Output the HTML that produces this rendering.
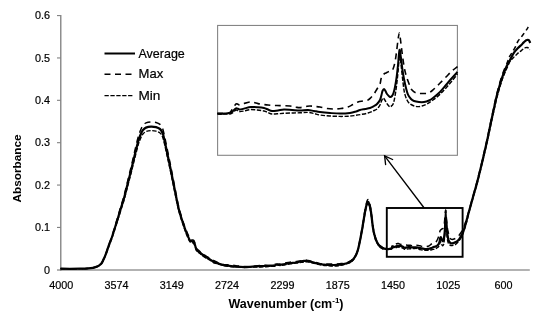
<!DOCTYPE html>
<html lang="en"><head><meta charset="utf-8"><title>FTIR absorbance spectra</title>
<style>html,body{margin:0;padding:0;background:#fff;}body{width:550px;height:316px;overflow:hidden;}svg{display:block;}text{font-family:"Liberation Sans",sans-serif;fill:#000;}</style></head><body>
<svg width="550" height="316" viewBox="0 0 550 316">
<rect width="550" height="316" fill="#fff"/>
<line x1="57" y1="270" x2="529.8" y2="270" stroke="#b2b2b2" stroke-width="2"/>
<line x1="60.75" y1="15.1" x2="60.75" y2="270.9" stroke="#8e8e8e" stroke-width="1.5"/>
<g stroke="#808080" stroke-width="1.1" fill="none">
<line x1="57" y1="227.43" x2="60.7" y2="227.43"/>
<line x1="57" y1="185.06" x2="60.7" y2="185.06"/>
<line x1="57" y1="142.69" x2="60.7" y2="142.69"/>
<line x1="57" y1="100.32" x2="60.7" y2="100.32"/>
<line x1="57" y1="57.95" x2="60.7" y2="57.95"/>
<line x1="57" y1="15.58" x2="60.7" y2="15.58"/>
</g>
<text x="50" y="273.8" font-size="10.8" text-anchor="end" stroke="#000" stroke-width="0.2">0</text>
<text x="50" y="231.3" font-size="10.8" text-anchor="end" stroke="#000" stroke-width="0.2">0.1</text>
<text x="50" y="188.8" font-size="10.8" text-anchor="end" stroke="#000" stroke-width="0.2">0.2</text>
<text x="50" y="146.4" font-size="10.8" text-anchor="end" stroke="#000" stroke-width="0.2">0.3</text>
<text x="50" y="103.9" font-size="10.8" text-anchor="end" stroke="#000" stroke-width="0.2">0.4</text>
<text x="50" y="61.5" font-size="10.8" text-anchor="end" stroke="#000" stroke-width="0.2">0.5</text>
<text x="50" y="19.0" font-size="10.8" text-anchor="end" stroke="#000" stroke-width="0.2">0.6</text>
<text x="61.2" y="288.8" font-size="10.8" text-anchor="middle" stroke="#000" stroke-width="0.2">4000</text>
<text x="116.5" y="288.8" font-size="10.8" text-anchor="middle" stroke="#000" stroke-width="0.2">3574</text>
<text x="171.8" y="288.8" font-size="10.8" text-anchor="middle" stroke="#000" stroke-width="0.2">3149</text>
<text x="227.1" y="288.8" font-size="10.8" text-anchor="middle" stroke="#000" stroke-width="0.2">2724</text>
<text x="282.4" y="288.8" font-size="10.8" text-anchor="middle" stroke="#000" stroke-width="0.2">2299</text>
<text x="337.7" y="288.8" font-size="10.8" text-anchor="middle" stroke="#000" stroke-width="0.2">1875</text>
<text x="393.0" y="288.8" font-size="10.8" text-anchor="middle" stroke="#000" stroke-width="0.2">1450</text>
<text x="448.3" y="288.8" font-size="10.8" text-anchor="middle" stroke="#000" stroke-width="0.2">1025</text>
<text x="503.6" y="288.8" font-size="10.8" text-anchor="middle" stroke="#000" stroke-width="0.2">600</text>
<text x="286" y="307.6" font-size="12.5" font-weight="bold" text-anchor="middle">Wavenumber (cm<tspan font-size="8" dy="-4.5">-1</tspan><tspan dy="4.5">)</tspan></text>
<text transform="translate(20.8,168.5) rotate(-90)" font-size="11.8" font-weight="bold" text-anchor="middle">Absorbance</text>
<g stroke="#000" fill="none">
<line x1="104.5" y1="53.5" x2="135" y2="53.5" stroke-width="2"/>
<line x1="104.5" y1="74.3" x2="135" y2="74.3" stroke-width="1.5" stroke-dasharray="6 4.5"/>
<line x1="104.5" y1="95.6" x2="133" y2="95.6" stroke-width="1.3" stroke-dasharray="4.3 1.6"/>
</g>
<text x="138.5" y="58" font-size="12.6" textLength="46.3" lengthAdjust="spacingAndGlyphs" stroke="#000" stroke-width="0.2">Average</text>
<text x="138.5" y="78.4" font-size="12.6" textLength="24.7" lengthAdjust="spacingAndGlyphs" stroke="#000" stroke-width="0.2">Max</text>
<text x="138.5" y="99.6" font-size="12.6" textLength="21.9" lengthAdjust="spacingAndGlyphs" stroke="#000" stroke-width="0.2">Min</text>
<rect x="217.6" y="25.45" width="239.8" height="129.85" fill="#fff" stroke="#858585" stroke-width="1.1"/>
<g stroke="#000" fill="none" stroke-linejoin="round">
<path d="M217.40,113.20C218.17,113.23 220.57,113.43 222.00,113.40C223.43,113.37 224.67,113.15 226.00,113.00C227.33,112.85 228.83,113.33 230.00,112.50C231.17,111.67 232.00,109.42 233.00,108.00C234.00,106.58 235.17,104.63 236.00,104.00C236.83,103.37 237.33,104.03 238.00,104.20C238.67,104.37 239.00,105.12 240.00,105.00C241.00,104.88 242.33,104.00 244.00,103.50C245.67,103.00 248.33,102.17 250.00,102.00C251.67,101.83 252.67,102.23 254.00,102.50C255.33,102.77 256.50,103.27 258.00,103.60C259.50,103.93 261.33,104.27 263.00,104.50C264.67,104.73 266.17,104.83 268.00,105.00C269.83,105.17 272.00,105.40 274.00,105.50C276.00,105.60 277.33,105.52 280.00,105.60C282.67,105.68 287.33,105.73 290.00,106.00C292.67,106.27 294.33,106.93 296.00,107.20C297.67,107.47 298.33,107.72 300.00,107.60C301.67,107.48 304.33,106.77 306.00,106.50C307.67,106.23 308.50,106.00 310.00,106.00C311.50,106.00 313.33,106.33 315.00,106.50C316.67,106.67 318.00,106.67 320.00,107.00C322.00,107.33 324.67,108.17 327.00,108.50C329.33,108.83 331.67,109.00 334.00,109.00C336.33,109.00 338.67,108.83 341.00,108.50C343.33,108.17 346.00,107.67 348.00,107.00C350.00,106.33 351.33,105.33 353.00,104.50C354.67,103.67 356.33,102.58 358.00,102.00C359.67,101.42 361.33,101.33 363.00,101.00C364.67,100.67 366.67,100.58 368.00,100.00C369.33,99.42 370.00,98.50 371.00,97.50C372.00,96.50 373.00,95.42 374.00,94.00C375.00,92.58 376.00,90.67 377.00,89.00C378.00,87.33 379.33,85.67 380.00,84.00C380.67,82.33 380.67,80.33 381.00,79.00C381.33,77.67 381.50,76.83 382.00,76.00C382.50,75.17 383.33,74.50 384.00,74.00C384.67,73.50 385.17,73.42 386.00,73.00C386.83,72.58 388.17,71.83 389.00,71.50C389.83,71.17 390.33,71.42 391.00,71.00C391.67,70.58 392.33,70.50 393.00,69.00C393.67,67.50 394.42,64.83 395.00,62.00C395.58,59.17 396.00,55.67 396.50,52.00C397.00,48.33 397.53,43.17 398.00,40.00C398.47,36.83 398.88,33.00 399.30,33.00C399.72,33.00 400.05,36.83 400.50,40.00C400.95,43.17 401.42,47.67 402.00,52.00C402.58,56.33 403.33,62.17 404.00,66.00C404.67,69.83 405.08,71.83 406.00,75.00C406.92,78.17 408.50,82.50 409.50,85.00C410.50,87.50 410.92,88.67 412.00,90.00C413.08,91.33 414.33,92.42 416.00,93.00C417.67,93.58 419.92,93.50 422.00,93.50C424.08,93.50 426.50,93.75 428.50,93.00C430.50,92.25 432.15,90.58 434.00,89.00C435.85,87.42 437.60,85.50 439.60,83.50C441.60,81.50 443.93,79.08 446.00,77.00C448.07,74.92 450.08,72.73 452.00,71.00C453.92,69.27 456.58,67.33 457.50,66.60" stroke-width="1.6" stroke-dasharray="6 4.5"/>
<path d="M217.40,114.00C218.17,114.05 220.57,114.30 222.00,114.30C223.43,114.30 224.67,114.05 226.00,114.00C227.33,113.95 228.83,114.25 230.00,114.00C231.17,113.75 232.00,113.17 233.00,112.50C234.00,111.83 235.17,110.28 236.00,110.00C236.83,109.72 237.33,110.53 238.00,110.80C238.67,111.07 239.00,111.57 240.00,111.60C241.00,111.63 242.33,111.33 244.00,111.00C245.67,110.67 247.83,109.77 250.00,109.60C252.17,109.43 254.67,109.77 257.00,110.00C259.33,110.23 262.17,110.58 264.00,111.00C265.83,111.42 266.67,112.00 268.00,112.50C269.33,113.00 270.00,113.82 272.00,114.00C274.00,114.18 277.00,113.77 280.00,113.60C283.00,113.43 286.67,113.13 290.00,113.00C293.33,112.87 297.00,112.90 300.00,112.80C303.00,112.70 305.67,112.28 308.00,112.40C310.33,112.52 312.00,113.07 314.00,113.50C316.00,113.93 317.33,114.58 320.00,115.00C322.67,115.42 326.67,115.77 330.00,116.00C333.33,116.23 337.00,116.37 340.00,116.40C343.00,116.43 345.67,116.33 348.00,116.20C350.33,116.07 351.83,115.88 354.00,115.60C356.17,115.32 358.67,114.93 361.00,114.50C363.33,114.07 366.00,113.58 368.00,113.00C370.00,112.42 371.50,111.67 373.00,111.00C374.50,110.33 375.83,110.00 377.00,109.00C378.17,108.00 379.25,106.33 380.00,105.00C380.75,103.67 381.00,102.17 381.50,101.00C382.00,99.83 382.50,98.25 383.00,98.00C383.50,97.75 384.00,98.83 384.50,99.50C385.00,100.17 385.42,101.08 386.00,102.00C386.58,102.92 387.33,104.17 388.00,105.00C388.67,105.83 389.33,106.92 390.00,107.00C390.67,107.08 391.42,106.17 392.00,105.50C392.58,104.83 393.00,104.58 393.50,103.00C394.00,101.42 394.50,98.83 395.00,96.00C395.50,93.17 396.00,90.00 396.50,86.00C397.00,82.00 397.47,77.33 398.00,72.00C398.53,66.67 399.20,55.33 399.70,54.00C400.20,52.67 400.53,60.00 401.00,64.00C401.47,68.00 402.00,73.67 402.50,78.00C403.00,82.33 403.58,87.23 404.00,90.00C404.42,92.77 404.50,92.93 405.00,94.60C405.50,96.27 406.25,98.52 407.00,100.00C407.75,101.48 408.50,102.58 409.50,103.50C410.50,104.42 411.67,104.98 413.00,105.50C414.33,106.02 416.00,106.52 417.50,106.60C419.00,106.68 420.42,106.43 422.00,106.00C423.58,105.57 425.17,105.00 427.00,104.00C428.83,103.00 430.90,101.57 433.00,100.00C435.10,98.43 437.43,96.60 439.60,94.60C441.77,92.60 443.93,90.27 446.00,88.00C448.07,85.73 450.08,83.33 452.00,81.00C453.92,78.67 456.58,75.17 457.50,74.00" stroke-width="1.45" stroke-dasharray="4.3 1.6"/>
<path d="M217.40,113.60C218.17,113.63 220.57,113.83 222.00,113.80C223.43,113.77 224.67,113.53 226.00,113.40C227.33,113.27 228.83,113.40 230.00,113.00C231.17,112.60 232.00,111.77 233.00,111.00C234.00,110.23 235.17,108.77 236.00,108.40C236.83,108.03 237.33,108.60 238.00,108.80C238.67,109.00 239.00,109.63 240.00,109.60C241.00,109.57 242.17,109.03 244.00,108.60C245.83,108.17 248.67,107.23 251.00,107.00C253.33,106.77 255.83,107.03 258.00,107.20C260.17,107.37 262.33,107.62 264.00,108.00C265.67,108.38 266.67,109.00 268.00,109.50C269.33,110.00 270.33,110.85 272.00,111.00C273.67,111.15 276.00,110.63 278.00,110.40C280.00,110.17 281.67,109.67 284.00,109.60C286.33,109.53 289.33,109.87 292.00,110.00C294.67,110.13 297.33,110.40 300.00,110.40C302.67,110.40 305.67,109.90 308.00,110.00C310.33,110.10 312.00,110.67 314.00,111.00C316.00,111.33 317.33,111.67 320.00,112.00C322.67,112.33 326.67,112.73 330.00,113.00C333.33,113.27 336.67,113.60 340.00,113.60C343.33,113.60 347.33,113.35 350.00,113.00C352.67,112.65 354.33,112.00 356.00,111.50C357.67,111.00 358.50,110.42 360.00,110.00C361.50,109.58 363.33,109.33 365.00,109.00C366.67,108.67 368.50,108.50 370.00,108.00C371.50,107.50 372.83,106.67 374.00,106.00C375.17,105.33 376.00,105.00 377.00,104.00C378.00,103.00 379.25,101.50 380.00,100.00C380.75,98.50 381.08,96.50 381.50,95.00C381.92,93.50 382.08,92.00 382.50,91.00C382.92,90.00 383.50,89.00 384.00,89.00C384.50,89.00 385.00,90.17 385.50,91.00C386.00,91.83 386.25,93.00 387.00,94.00C387.75,95.00 389.17,96.67 390.00,97.00C390.83,97.33 391.42,96.67 392.00,96.00C392.58,95.33 393.00,94.50 393.50,93.00C394.00,91.50 394.50,89.50 395.00,87.00C395.50,84.50 396.00,81.67 396.50,78.00C397.00,74.33 397.50,69.67 398.00,65.00C398.50,60.33 399.00,51.17 399.50,50.00C400.00,48.83 400.50,54.67 401.00,58.00C401.50,61.33 402.00,66.50 402.50,70.00C403.00,73.50 403.42,76.00 404.00,79.00C404.58,82.00 405.33,85.40 406.00,88.00C406.67,90.60 407.17,92.77 408.00,94.60C408.83,96.43 410.00,97.93 411.00,99.00C412.00,100.07 412.67,100.50 414.00,101.00C415.33,101.50 417.33,101.83 419.00,102.00C420.67,102.17 422.33,102.25 424.00,102.00C425.67,101.75 427.50,101.17 429.00,100.50C430.50,99.83 431.17,99.42 433.00,98.00C434.83,96.58 437.83,94.17 440.00,92.00C442.17,89.83 444.00,87.33 446.00,85.00C448.00,82.67 450.08,80.17 452.00,78.00C453.92,75.83 456.58,73.00 457.50,72.00" stroke-width="2"/>
</g>
<g stroke="#000" fill="none" stroke-linejoin="round">
<path d="M60.50,268.67C62.08,268.69 66.75,268.77 70.00,268.77C73.25,268.77 77.00,268.74 80.00,268.67C83.00,268.60 85.83,268.52 88.00,268.36C90.17,268.21 91.37,268.10 93.00,267.74C94.63,267.38 96.63,266.71 97.80,266.19C98.97,265.67 99.30,265.28 100.00,264.64C100.70,264.00 101.33,263.45 102.00,262.37C102.67,261.28 103.27,259.86 104.00,258.13C104.73,256.41 105.57,254.36 106.40,252.04C107.23,249.71 108.07,246.87 109.00,244.19C109.93,241.50 111.00,238.94 112.00,235.92C113.00,232.91 114.03,229.30 115.00,226.11C115.97,222.93 116.88,219.91 117.80,216.81C118.72,213.71 119.55,210.70 120.50,207.52C121.45,204.33 122.58,200.97 123.50,197.70C124.42,194.43 125.15,191.33 126.00,187.89C126.85,184.45 127.72,180.66 128.60,177.04C129.48,173.43 130.32,170.33 131.30,166.20C132.28,162.06 133.38,156.99 134.50,152.25C135.62,147.52 137.08,141.23 138.00,137.79C138.92,134.35 139.42,133.23 140.00,131.59C140.58,129.96 141.00,129.01 141.50,127.98C142.00,126.94 142.25,126.24 143.00,125.39C143.75,124.55 144.67,123.50 146.00,122.91C147.33,122.33 149.33,121.95 151.00,121.88C152.67,121.81 154.50,122.09 156.00,122.50C157.50,122.91 159.00,123.53 160.00,124.36C161.00,125.19 161.42,126.25 162.00,127.46C162.58,128.66 162.67,128.15 163.50,131.59C164.33,135.03 165.75,142.09 167.00,148.12C168.25,154.15 169.67,161.03 171.00,167.75C172.33,174.46 173.67,181.69 175.00,188.41C176.33,195.12 177.50,202.01 179.00,208.03C180.50,214.06 182.67,220.53 184.00,224.56C185.33,228.59 186.00,229.84 187.00,232.20C188.00,234.56 189.17,237.45 190.00,238.74C190.83,240.03 191.33,239.65 192.00,239.96C192.67,240.28 193.45,239.82 194.00,240.62C194.55,241.43 194.88,243.50 195.30,244.81C195.72,246.11 196.05,247.64 196.50,248.46C196.95,249.27 197.42,249.20 198.00,249.70C198.58,250.21 199.17,250.84 200.00,251.49C200.83,252.14 201.92,252.79 203.00,253.61C204.08,254.42 205.33,255.60 206.50,256.38C207.67,257.16 208.67,257.53 210.00,258.29C211.33,259.04 213.08,260.12 214.50,260.89C215.92,261.65 217.13,262.27 218.50,262.88C219.87,263.48 220.62,264.16 222.70,264.52C224.78,264.88 228.62,264.83 231.00,265.06C233.38,265.28 234.83,265.62 237.00,265.88C239.17,266.13 241.83,266.45 244.00,266.59C246.17,266.73 248.08,266.82 250.00,266.71C251.92,266.59 253.17,266.15 255.50,265.92C257.83,265.69 261.28,265.40 264.00,265.33C266.72,265.26 269.97,265.67 271.80,265.49C273.63,265.32 274.18,264.46 275.00,264.25C275.82,264.05 275.87,264.29 276.70,264.24C277.53,264.19 278.62,264.19 280.00,263.98C281.38,263.78 283.33,263.31 285.00,263.01C286.67,262.71 288.17,262.39 290.00,262.16C291.83,261.93 294.33,261.80 296.00,261.62C297.67,261.45 298.67,261.41 300.00,261.10C301.33,260.78 302.67,259.83 304.00,259.74C305.33,259.65 306.50,260.22 308.00,260.55C309.50,260.89 311.33,261.34 313.00,261.75C314.67,262.16 316.33,262.67 318.00,263.03C319.67,263.39 321.33,263.77 323.00,263.93C324.67,264.08 326.17,263.96 328.00,263.96C329.83,263.97 332.00,264.00 334.00,263.96C336.00,263.91 338.00,263.85 340.00,263.69C342.00,263.54 344.33,263.44 346.00,263.03C347.67,262.62 348.83,261.98 350.00,261.23C351.17,260.48 352.00,259.65 353.00,258.53C354.00,257.41 355.17,256.13 356.00,254.52C356.83,252.90 357.33,251.33 358.00,248.84C358.67,246.34 359.33,242.90 360.00,239.54C360.67,236.18 361.50,231.53 362.00,228.69C362.50,225.85 362.50,225.59 363.00,222.50C363.50,219.40 364.42,213.37 365.00,210.10C365.58,206.83 366.05,204.59 366.50,202.87C366.95,201.15 367.35,200.20 367.70,199.77C368.05,199.34 368.30,199.77 368.60,200.29C368.90,200.80 369.10,201.23 369.50,202.87C369.90,204.50 370.42,206.14 371.00,210.10C371.58,214.06 372.42,222.67 373.00,226.63C373.58,230.59 374.00,231.79 374.50,233.86C375.00,235.92 375.42,237.51 376.00,239.02C376.58,240.54 377.33,241.85 378.00,242.95C378.67,244.05 379.17,244.84 380.00,245.63C380.83,246.43 381.83,247.17 383.00,247.70C384.17,248.23 386.09,248.61 387.00,248.81C387.91,249.01 388.02,248.92 388.48,248.90C388.95,248.89 389.34,248.78 389.77,248.71C390.20,248.64 390.69,248.87 391.06,248.47C391.44,248.07 391.71,246.98 392.03,246.29C392.35,245.61 392.73,244.67 393.00,244.36C393.27,244.06 393.43,244.38 393.64,244.46C393.86,244.54 393.96,244.90 394.29,244.85C394.61,244.79 395.04,244.36 395.58,244.12C396.11,243.88 396.97,243.48 397.51,243.40C398.05,243.32 398.37,243.51 398.80,243.64C399.23,243.77 399.61,244.01 400.09,244.17C400.57,244.33 401.16,244.49 401.70,244.60C402.24,244.72 402.72,244.76 403.31,244.85C403.90,244.93 404.60,245.04 405.25,245.09C405.89,245.14 406.32,245.10 407.18,245.14C408.04,245.18 409.55,245.20 410.41,245.33C411.27,245.46 411.80,245.78 412.34,245.91C412.88,246.04 413.09,246.16 413.63,246.10C414.17,246.05 415.03,245.70 415.56,245.57C416.10,245.44 416.37,245.33 416.85,245.33C417.34,245.33 417.93,245.49 418.47,245.57C419.00,245.65 419.43,245.65 420.08,245.81C420.72,245.97 421.58,246.38 422.34,246.54C423.09,246.70 423.84,246.78 424.59,246.78C425.34,246.78 426.10,246.70 426.85,246.54C427.60,246.38 428.46,246.13 429.11,245.81C429.75,245.49 430.18,245.01 430.72,244.60C431.25,244.20 431.79,243.68 432.33,243.40C432.87,243.11 433.40,243.07 433.94,242.91C434.48,242.75 435.12,242.71 435.55,242.43C435.98,242.15 436.20,241.71 436.52,241.22C436.84,240.74 437.17,240.22 437.49,239.53C437.81,238.85 438.13,237.92 438.46,237.12C438.78,236.31 439.21,235.51 439.42,234.70C439.64,233.90 439.64,232.93 439.74,232.29C439.85,231.64 439.91,231.24 440.07,230.84C440.23,230.43 440.50,230.11 440.71,229.87C440.93,229.63 441.09,229.59 441.36,229.39C441.63,229.19 442.06,228.82 442.32,228.66C442.59,228.50 442.75,228.62 442.97,228.42C443.18,228.22 443.40,228.18 443.61,227.45C443.83,226.73 444.07,225.44 444.26,224.07C444.45,222.70 444.58,221.01 444.74,219.24C444.90,217.47 445.07,214.97 445.23,213.44C445.38,211.91 445.51,210.06 445.64,210.06C445.78,210.06 445.89,211.91 446.03,213.44C446.18,214.97 446.33,217.15 446.52,219.24C446.70,221.33 446.94,224.15 447.16,226.00C447.37,227.86 447.51,228.82 447.80,230.35C448.10,231.88 448.61,233.98 448.93,235.18C449.26,236.39 449.39,236.95 449.74,237.60C450.09,238.24 450.49,238.76 451.03,239.05C451.57,239.33 452.00,239.56 453.00,239.30C454.00,239.04 455.83,238.38 457.00,237.50C458.17,236.62 459.08,235.25 460.00,234.00C460.92,232.75 461.78,231.33 462.50,230.00C463.22,228.67 463.68,227.67 464.30,226.00C464.92,224.33 465.35,222.79 466.20,220.00C467.05,217.21 468.22,213.43 469.40,209.28C470.58,205.14 472.00,199.82 473.30,195.12C474.60,190.41 475.82,186.38 477.20,181.05C478.58,175.72 480.38,168.21 481.60,163.14C482.82,158.06 483.56,154.70 484.50,150.59C485.44,146.47 486.38,142.44 487.25,138.44C488.12,134.45 488.88,130.55 489.70,126.60C490.52,122.66 491.42,118.44 492.20,114.76C492.98,111.09 493.67,107.92 494.40,104.54C495.13,101.17 495.87,97.56 496.60,94.52C497.33,91.49 498.07,88.94 498.80,86.33C499.53,83.71 500.30,81.08 501.00,78.84C501.70,76.59 502.33,74.74 503.00,72.87C503.67,71.00 504.33,69.24 505.00,67.60C505.67,65.97 506.47,64.32 507.00,63.05C507.53,61.78 508.00,60.51 508.20,60.00" stroke-width="1.5" stroke-dasharray="6 4.5"/>
<path d="M60.50,268.73C62.08,268.74 66.75,268.82 70.00,268.82C73.25,268.82 77.00,268.79 80.00,268.73C83.00,268.66 85.83,268.58 88.00,268.43C90.17,268.29 91.37,268.19 93.00,267.85C94.63,267.51 96.63,266.88 97.80,266.39C98.97,265.91 99.30,265.53 100.00,264.93C100.70,264.34 101.33,263.82 102.00,262.80C102.67,261.78 103.27,260.43 104.00,258.81C104.73,257.19 105.57,255.26 106.40,253.08C107.23,250.89 108.07,248.22 109.00,245.69C109.93,243.16 111.00,240.75 112.00,237.91C113.00,235.08 114.03,231.68 115.00,228.68C115.97,225.68 116.88,222.85 117.80,219.93C118.72,217.01 119.55,214.18 120.50,211.18C121.45,208.19 122.58,205.03 123.50,201.95C124.42,198.87 125.15,195.95 126.00,192.71C126.85,189.47 127.72,185.91 128.60,182.51C129.48,179.11 130.32,176.19 131.30,172.30C132.28,168.41 133.38,163.64 134.50,159.18C135.62,154.73 137.08,148.81 138.00,145.57C138.92,142.33 139.42,141.28 140.00,139.74C140.58,138.20 141.00,137.31 141.50,136.34C142.00,135.37 142.25,134.70 143.00,133.91C143.75,133.12 144.67,132.13 146.00,131.58C147.33,131.03 149.33,130.67 151.00,130.60C152.67,130.54 154.50,130.80 156.00,131.19C157.50,131.58 159.00,132.16 160.00,132.94C161.00,133.71 161.42,134.72 162.00,135.85C162.58,136.99 162.67,136.50 163.50,139.74C164.33,142.98 165.75,149.62 167.00,155.29C168.25,160.96 169.67,167.44 171.00,173.76C172.33,180.08 173.67,186.88 175.00,193.20C176.33,199.52 177.50,206.00 179.00,211.67C180.50,217.34 182.67,223.24 184.00,227.22C185.33,231.20 186.00,233.12 187.00,235.53C188.00,237.95 189.17,240.60 190.00,241.72C190.83,242.84 191.33,241.88 192.00,242.24C192.67,242.61 193.45,243.06 194.00,243.91C194.55,244.75 194.88,246.22 195.30,247.31C195.72,248.40 196.05,249.63 196.50,250.45C196.95,251.27 197.42,251.74 198.00,252.24C198.58,252.74 199.17,252.79 200.00,253.45C200.83,254.12 201.92,255.42 203.00,256.23C204.08,257.05 205.33,257.69 206.50,258.32C207.67,258.95 208.67,259.22 210.00,260.02C211.33,260.82 213.08,262.51 214.50,263.14C215.92,263.78 217.13,263.48 218.50,263.84C219.87,264.20 220.62,264.81 222.70,265.30C224.78,265.80 228.62,266.54 231.00,266.81C233.38,267.07 234.83,266.77 237.00,266.88C239.17,267.00 241.83,267.51 244.00,267.51C246.17,267.51 248.08,266.93 250.00,266.87C251.92,266.80 253.17,267.12 255.50,267.11C257.83,267.10 261.28,266.96 264.00,266.82C266.72,266.67 269.97,266.33 271.80,266.24C273.63,266.14 274.18,266.47 275.00,266.25C275.82,266.02 275.87,265.02 276.70,264.91C277.53,264.80 278.62,265.61 280.00,265.58C281.38,265.55 283.33,264.98 285.00,264.70C286.67,264.42 288.17,264.18 290.00,263.91C291.83,263.64 294.33,263.34 296.00,263.11C297.67,262.87 298.67,262.71 300.00,262.52C301.33,262.32 302.67,262.05 304.00,261.94C305.33,261.83 306.50,261.66 308.00,261.86C309.50,262.06 311.33,262.77 313.00,263.12C314.67,263.47 316.33,263.61 318.00,263.97C319.67,264.34 321.33,265.00 323.00,265.29C324.67,265.59 326.17,265.60 328.00,265.73C329.83,265.86 332.00,266.11 334.00,266.07C336.00,266.04 338.00,265.87 340.00,265.51C342.00,265.15 344.33,264.40 346.00,263.91C347.67,263.41 348.83,263.13 350.00,262.55C351.17,261.96 352.00,261.59 353.00,260.40C354.00,259.21 355.17,257.13 356.00,255.41C356.83,253.69 357.33,252.41 358.00,250.06C358.67,247.71 359.33,244.47 360.00,241.31C360.67,238.16 361.50,233.78 362.00,231.11C362.50,228.44 362.50,228.19 363.00,225.28C363.50,222.36 364.42,216.69 365.00,213.61C365.58,210.53 366.05,208.43 366.50,206.81C366.95,205.19 367.35,204.30 367.70,203.89C368.05,203.49 368.30,203.89 368.60,204.38C368.90,204.86 369.10,205.27 369.50,206.81C369.90,208.35 370.42,209.89 371.00,213.61C371.58,217.34 372.42,225.44 373.00,229.16C373.58,232.89 374.00,234.02 374.50,235.97C375.00,237.91 375.42,239.40 376.00,240.83C376.58,242.25 377.33,243.49 378.00,244.52C378.67,245.56 379.17,246.30 380.00,247.05C380.83,247.79 381.83,248.64 383.00,248.99C384.17,249.35 386.09,249.14 387.00,249.19C387.91,249.25 388.02,249.34 388.48,249.34C388.95,249.34 389.34,249.22 389.77,249.19C390.20,249.17 390.69,249.31 391.06,249.19C391.44,249.07 391.71,248.79 392.03,248.47C392.35,248.15 392.73,247.40 393.00,247.26C393.27,247.12 393.43,247.52 393.64,247.65C393.86,247.78 393.96,248.02 394.29,248.03C394.61,248.05 395.04,247.90 395.58,247.74C396.11,247.58 396.81,247.15 397.51,247.07C398.21,246.99 399.01,247.15 399.77,247.26C400.52,247.37 401.43,247.54 402.02,247.74C402.61,247.95 402.88,248.23 403.31,248.47C403.74,248.71 403.96,249.10 404.60,249.19C405.25,249.28 406.22,249.08 407.18,249.00C408.15,248.92 409.33,248.77 410.41,248.71C411.48,248.65 412.66,248.66 413.63,248.61C414.60,248.57 415.46,248.36 416.21,248.42C416.96,248.48 417.50,248.74 418.14,248.95C418.79,249.16 419.22,249.48 420.08,249.68C420.94,249.88 422.23,250.05 423.30,250.16C424.38,250.27 425.56,250.34 426.53,250.35C427.49,250.37 428.35,250.32 429.11,250.26C429.86,250.19 430.34,250.10 431.04,249.97C431.74,249.83 432.54,249.64 433.30,249.43C434.05,249.23 434.91,248.99 435.55,248.71C436.20,248.43 436.68,248.07 437.17,247.74C437.65,247.42 438.08,247.26 438.46,246.78C438.83,246.29 439.18,245.49 439.42,244.85C439.66,244.20 439.74,243.48 439.91,242.91C440.07,242.35 440.23,241.58 440.39,241.46C440.55,241.34 440.71,241.87 440.87,242.19C441.03,242.51 441.17,242.95 441.36,243.40C441.54,243.84 441.79,244.44 442.00,244.85C442.22,245.25 442.43,245.77 442.65,245.81C442.86,245.85 443.10,245.41 443.29,245.09C443.48,244.76 443.61,244.64 443.77,243.88C443.94,243.11 444.10,241.87 444.26,240.50C444.42,239.13 444.58,237.60 444.74,235.67C444.90,233.73 445.05,231.48 445.23,228.90C445.40,226.33 445.61,220.85 445.77,220.21C445.93,219.56 446.04,223.11 446.19,225.04C446.34,226.97 446.52,229.71 446.68,231.80C446.84,233.90 447.03,236.26 447.16,237.60C447.29,238.94 447.32,239.02 447.48,239.82C447.64,240.63 447.89,241.71 448.13,242.43C448.37,243.15 448.61,243.68 448.93,244.12C449.26,244.56 449.63,244.84 450.06,245.09C450.49,245.34 450.97,245.60 451.51,245.62C452.05,245.64 452.64,245.39 453.30,245.20C453.96,245.01 454.63,245.12 455.50,244.50C456.37,243.88 457.58,242.58 458.50,241.50C459.42,240.42 460.25,239.33 461.00,238.00C461.75,236.67 462.33,235.25 463.00,233.50C463.67,231.75 464.37,229.50 465.00,227.50C465.63,225.50 466.07,224.30 466.80,221.50C467.53,218.70 468.32,214.82 469.40,210.72C470.48,206.61 472.00,201.48 473.30,196.88C474.60,192.29 475.82,188.35 477.20,183.15C478.58,177.95 480.38,170.62 481.60,165.66C482.82,160.71 483.56,157.43 484.50,153.41C485.44,149.39 486.38,145.46 487.25,141.56C488.12,137.65 488.88,133.85 489.70,130.00C490.52,126.14 491.42,122.03 492.20,118.44C492.98,114.85 493.67,111.75 494.40,108.46C495.13,105.16 495.87,101.64 496.60,98.68C497.33,95.71 498.07,93.23 498.80,90.67C499.53,88.12 500.30,85.55 501.00,83.36C501.70,81.17 502.33,79.36 503.00,77.53C503.67,75.70 504.33,73.99 505.00,72.40C505.67,70.80 506.17,69.77 507.00,67.95C507.83,66.13 508.92,63.24 510.00,61.50C511.08,59.76 512.37,58.72 513.50,57.50C514.63,56.28 515.88,55.07 516.80,54.20C517.72,53.33 518.20,52.93 519.00,52.30C519.80,51.67 520.85,51.00 521.60,50.40C522.35,49.80 522.85,49.15 523.50,48.70C524.15,48.25 524.87,47.90 525.50,47.70C526.13,47.50 526.78,47.42 527.30,47.50C527.82,47.58 528.22,47.82 528.60,48.20C528.98,48.58 529.43,49.53 529.60,49.80" stroke-width="1.4" stroke-dasharray="4.3 1.6"/>
<path d="M60.50,268.70C62.08,268.72 66.75,268.80 70.00,268.80C73.25,268.80 77.00,268.77 80.00,268.70C83.00,268.63 85.83,268.55 88.00,268.40C90.17,268.25 91.37,268.15 93.00,267.80C94.63,267.45 96.63,266.80 97.80,266.30C98.97,265.80 99.30,265.42 100.00,264.80C100.70,264.18 101.33,263.65 102.00,262.60C102.67,261.55 103.27,260.17 104.00,258.50C104.73,256.83 105.57,254.85 106.40,252.60C107.23,250.35 108.07,247.60 109.00,245.00C109.93,242.40 111.00,239.92 112.00,237.00C113.00,234.08 114.03,230.58 115.00,227.50C115.97,224.42 116.88,221.50 117.80,218.50C118.72,215.50 119.55,212.58 120.50,209.50C121.45,206.42 122.58,203.17 123.50,200.00C124.42,196.83 125.15,193.83 126.00,190.50C126.85,187.17 127.72,183.50 128.60,180.00C129.48,176.50 130.32,173.50 131.30,169.50C132.28,165.50 133.38,160.58 134.50,156.00C135.62,151.42 137.08,145.33 138.00,142.00C138.92,138.67 139.42,137.58 140.00,136.00C140.58,134.42 141.00,133.50 141.50,132.50C142.00,131.50 142.25,130.82 143.00,130.00C143.75,129.18 144.67,128.17 146.00,127.60C147.33,127.03 149.33,126.67 151.00,126.60C152.67,126.53 154.50,126.80 156.00,127.20C157.50,127.60 159.00,128.20 160.00,129.00C161.00,129.80 161.42,130.83 162.00,132.00C162.58,133.17 162.67,132.67 163.50,136.00C164.33,139.33 165.75,146.17 167.00,152.00C168.25,157.83 169.67,164.50 171.00,171.00C172.33,177.50 173.67,184.50 175.00,191.00C176.33,197.50 177.50,204.17 179.00,210.00C180.50,215.83 182.67,222.00 184.00,226.00C185.33,230.00 186.00,231.58 187.00,234.00C188.00,236.42 189.17,239.30 190.00,240.50C190.83,241.70 191.33,240.88 192.00,241.20C192.67,241.52 193.45,241.60 194.00,242.40C194.55,243.20 194.88,244.78 195.30,246.00C195.72,247.22 196.05,248.83 196.50,249.70C196.95,250.57 197.42,250.73 198.00,251.20C198.58,251.67 199.17,251.87 200.00,252.50C200.83,253.13 201.92,254.20 203.00,255.00C204.08,255.80 205.33,256.55 206.50,257.30C207.67,258.05 208.67,258.72 210.00,259.50C211.33,260.28 213.08,261.32 214.50,262.00C215.92,262.68 217.13,263.13 218.50,263.60C219.87,264.07 220.62,264.40 222.70,264.80C224.78,265.20 228.62,265.68 231.00,266.00C233.38,266.32 234.83,266.53 237.00,266.70C239.17,266.87 241.83,266.98 244.00,267.00C246.17,267.02 248.08,266.90 250.00,266.80C251.92,266.70 253.17,266.53 255.50,266.40C257.83,266.27 261.28,266.13 264.00,266.00C266.72,265.87 269.97,265.72 271.80,265.60C273.63,265.48 274.18,265.48 275.00,265.30C275.82,265.12 275.87,264.58 276.70,264.50C277.53,264.42 278.62,264.88 280.00,264.80C281.38,264.72 283.33,264.27 285.00,264.00C286.67,263.73 288.17,263.45 290.00,263.20C291.83,262.95 294.33,262.78 296.00,262.50C297.67,262.22 298.67,261.78 300.00,261.50C301.33,261.22 302.67,260.85 304.00,260.80C305.33,260.75 306.50,260.95 308.00,261.20C309.50,261.45 311.33,261.87 313.00,262.30C314.67,262.73 316.33,263.43 318.00,263.80C319.67,264.17 321.33,264.30 323.00,264.50C324.67,264.70 326.17,264.92 328.00,265.00C329.83,265.08 332.00,265.07 334.00,265.00C336.00,264.93 338.00,264.85 340.00,264.60C342.00,264.35 344.33,263.93 346.00,263.50C347.67,263.07 348.83,262.67 350.00,262.00C351.17,261.33 352.00,260.67 353.00,259.50C354.00,258.33 355.17,256.67 356.00,255.00C356.83,253.33 357.33,251.92 358.00,249.50C358.67,247.08 359.33,243.75 360.00,240.50C360.67,237.25 361.50,232.75 362.00,230.00C362.50,227.25 362.50,227.00 363.00,224.00C363.50,221.00 364.42,215.17 365.00,212.00C365.58,208.83 366.05,206.67 366.50,205.00C366.95,203.33 367.35,202.42 367.70,202.00C368.05,201.58 368.30,202.00 368.60,202.50C368.90,203.00 369.10,203.42 369.50,205.00C369.90,206.58 370.42,208.17 371.00,212.00C371.58,215.83 372.42,224.17 373.00,228.00C373.58,231.83 374.00,233.00 374.50,235.00C375.00,237.00 375.42,238.53 376.00,240.00C376.58,241.47 377.33,242.73 378.00,243.80C378.67,244.87 379.17,245.63 380.00,246.40C380.83,247.17 381.83,247.97 383.00,248.40C384.17,248.83 386.09,248.88 387.00,249.00C387.91,249.12 388.02,249.11 388.48,249.10C388.95,249.08 389.34,248.97 389.77,248.90C390.20,248.84 390.69,248.90 391.06,248.71C391.44,248.52 391.71,248.11 392.03,247.74C392.35,247.37 392.73,246.67 393.00,246.49C393.27,246.31 393.43,246.58 393.64,246.68C393.86,246.78 393.96,247.08 394.29,247.07C394.61,247.05 394.98,246.79 395.58,246.58C396.17,246.38 397.08,245.92 397.83,245.81C398.58,245.70 399.39,245.83 400.09,245.91C400.79,245.99 401.49,246.11 402.02,246.29C402.56,246.48 402.88,246.78 403.31,247.02C403.74,247.26 404.07,247.67 404.60,247.74C405.14,247.82 405.89,247.57 406.54,247.45C407.18,247.34 407.72,247.10 408.47,247.07C409.22,247.04 410.19,247.20 411.05,247.26C411.91,247.33 412.77,247.45 413.63,247.45C414.49,247.45 415.46,247.21 416.21,247.26C416.96,247.31 417.50,247.58 418.14,247.74C418.79,247.90 419.22,248.07 420.08,248.23C420.94,248.39 422.23,248.58 423.30,248.71C424.38,248.84 425.45,249.00 426.53,249.00C427.60,249.00 428.89,248.88 429.75,248.71C430.61,248.54 431.15,248.23 431.68,247.99C432.22,247.74 432.49,247.46 432.97,247.26C433.46,247.06 434.05,246.94 434.59,246.78C435.12,246.62 435.71,246.54 436.20,246.29C436.68,246.05 437.11,245.65 437.49,245.33C437.86,245.01 438.13,244.85 438.46,244.36C438.78,243.88 439.18,243.15 439.42,242.43C439.66,241.71 439.77,240.74 439.91,240.01C440.04,239.29 440.09,238.57 440.23,238.08C440.36,237.60 440.55,237.12 440.71,237.12C440.87,237.12 441.03,237.68 441.20,238.08C441.36,238.48 441.44,239.05 441.68,239.53C441.92,240.01 442.38,240.82 442.65,240.98C442.91,241.14 443.10,240.82 443.29,240.50C443.48,240.18 443.61,239.77 443.77,239.05C443.94,238.32 444.10,237.36 444.26,236.15C444.42,234.94 444.58,233.57 444.74,231.80C444.90,230.03 445.06,227.78 445.23,225.52C445.39,223.27 445.55,218.84 445.71,218.28C445.87,217.71 446.03,220.53 446.19,222.14C446.35,223.75 446.52,226.25 446.68,227.94C446.84,229.63 446.97,230.84 447.16,232.29C447.35,233.73 447.59,235.38 447.80,236.63C448.02,237.89 448.18,238.94 448.45,239.82C448.72,240.71 449.09,241.43 449.42,241.95C449.74,242.46 449.95,242.67 450.38,242.91C450.81,243.15 451.48,243.38 452.00,243.40C452.52,243.41 452.83,243.23 453.50,243.00C454.17,242.77 455.17,242.50 456.00,242.00C456.83,241.50 457.75,240.83 458.50,240.00C459.25,239.17 459.80,238.17 460.50,237.00C461.20,235.83 462.03,234.50 462.70,233.00C463.37,231.50 463.88,230.00 464.50,228.00C465.12,226.00 465.58,224.00 466.40,221.00C467.22,218.00 468.25,214.17 469.40,210.00C470.55,205.83 472.00,200.65 473.30,196.00C474.60,191.35 475.82,187.37 477.20,182.10C478.58,176.83 480.38,169.42 481.60,164.40C482.82,159.38 483.56,156.07 484.50,152.00C485.44,147.93 486.38,143.95 487.25,140.00C488.12,136.05 488.88,132.20 489.70,128.30C490.52,124.40 491.42,120.23 492.20,116.60C492.98,112.97 493.67,109.83 494.40,106.50C495.13,103.17 495.87,99.60 496.60,96.60C497.33,93.60 498.07,91.08 498.80,88.50C499.53,85.92 500.30,83.32 501.00,81.10C501.70,78.88 502.33,77.05 503.00,75.20C503.67,73.35 504.33,71.62 505.00,70.00C505.67,68.38 506.17,67.17 507.00,65.50C507.83,63.83 508.83,62.15 510.00,60.00C511.17,57.85 512.67,54.60 514.00,52.60C515.33,50.60 516.73,49.32 518.00,48.00C519.27,46.68 520.68,45.60 521.60,44.70C522.52,43.80 522.87,43.25 523.50,42.60C524.13,41.95 524.82,41.23 525.40,40.80C525.98,40.37 526.48,40.12 527.00,40.00C527.52,39.88 528.08,39.90 528.50,40.10C528.92,40.30 529.22,40.72 529.50,41.20C529.78,41.68 530.08,42.70 530.20,43.00" stroke-width="2.25"/>
<path d="M509.20,57.00C509.62,56.37 510.65,54.93 511.70,53.20C512.75,51.47 514.48,48.55 515.50,46.60C516.52,44.65 516.95,42.93 517.80,41.50C518.65,40.07 519.73,39.12 520.60,38.00C521.47,36.88 522.10,36.05 523.00,34.80C523.90,33.55 525.12,31.80 526.00,30.50C526.88,29.20 527.92,27.58 528.30,27.00" stroke-width="1.5" stroke-dasharray="4.6 3.3"/>
<path d="M444.7,228L445.7,210.4L446.7,228" stroke-width="1.6"/>
</g>
<rect x="386.8" y="208" width="75.8" height="48.8" fill="none" stroke="#000" stroke-width="1.9"/>
<g stroke="#000" stroke-width="1.35" fill="none" stroke-linecap="round"><line x1="423.8" y1="207.5" x2="384.6" y2="155.8"/><polyline points="385.6,164.5 384.6,155.8 392.6,159.5"/></g>
</svg></body></html>
